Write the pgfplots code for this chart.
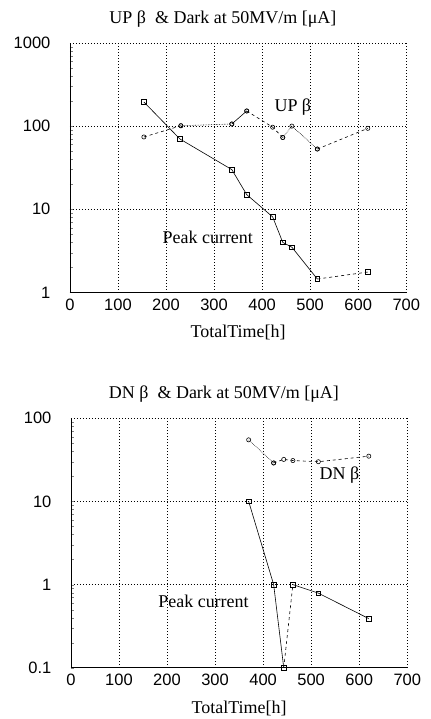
\documentclass[border=0pt]{standalone}
\usepackage{fontspec}
\setmainfont{Liberation Serif}
\newfontfamily\numfont{Liberation Sans}
\usepackage{pgfplots}
\pgfplotsset{compat=1.18}
\pgfplotsset{
  myax/.style={
    scale only axis, width=337pt, height=250pt,
    xmin=0, xmax=700,
    xtick={0,100,...,700},
    axis x line*=bottom, axis y line*=left,
    axis line style={-, line width=0.7pt},
    major tick length=0pt,
    grid=major, major grid style={dash pattern=on 0.8pt off 2.2pt, black, line width=0.6pt},
    /pgf/number format/assume math mode=true,
    tick label style={font=\numfont\fontsize{16.5}{18}\selectfont},
    yticklabel style={xshift=-16pt},
    xticklabel style={yshift=-3pt},
    xlabel={TotalTime[h]},
    xlabel style={font=\fontsize{18}{20}\selectfont, yshift=-8pt},
    title style={font=\fontsize{18}{20}\selectfont, at={(0.455,1)}, anchor=south, yshift=6pt},
    every axis plot/.append style={black, line width=0.6pt},
    clip=false,
  },
  sq/.style={mark=square, mark size=2.3pt, mark options={solid}},
  ci/.style={mark=o, mark size=2.1pt, mark options={solid}},
}
\begin{document}
\begin{tikzpicture}[x=1pt,y=1pt]
\path (0,0) rectangle (431,719);
% ---------- top ----------
\begin{axis}[ymode=log, myax, at={(70pt,426pt)}, anchor=south west,
  ymin=1, ymax=1000, ytick={1,10,100,1000}, yticklabels={1,10,100,1000},
  title={UP β \ \& Dark at 50MV/m [μA]}]
% Peak current
\addplot[sq] coordinates {(154,195) (229,70) (337,30) (368,15) (422,8.1) (443,4.0) (462,3.5) (515,1.45)};
\addplot[sq, dashed] coordinates {(515,1.45) (620,1.76)};
% UP beta
\addplot[ci, dashed] coordinates {(154,74) (231,101)};
\addplot[ci, densely dotted] coordinates {(231,101) (337,106)};
\addplot[ci] coordinates {(337,106) (368,152)};
\addplot[ci, dashed] coordinates {(368,152) (422,97) (443,73)};
\addplot[ci, densely dotted] coordinates {(443,73) (462,100) (515,53)};
\addplot[ci, dashed] coordinates {(515,53) (620,94)};
\node[font=\fontsize{18}{20}\selectfont] at (axis cs:464,169) {UP β};
\node[font=\fontsize{18}{20}\selectfont] at (axis cs:287,4.6) {Peak current};
\end{axis}
% ---------- bottom ----------
\begin{axis}[ymode=log, myax, at={(71pt,50pt)}, anchor=south west,
  ymin=0.1, ymax=100, ytick={0.1,1,10,100}, yticklabels={0.1,1,10,100},
  title={DN β \ \& Dark at 50MV/m [μA]}]
% Peak current
\addplot[sq] coordinates {(370,10) (422,1) (443,0.1)};
\addplot[sq, dashed] coordinates {(443,0.1) (462,1)};
\addplot[sq] coordinates {(462,1) (515,0.79) (620,0.39)};
% DN beta
\addplot[ci, densely dotted] coordinates {(370,55) (422,29)};
\addplot[ci, dashed] coordinates {(422,29) (443,32) (462,31) (515,30) (620,35)};
\node[font=\fontsize{18}{20}\selectfont] at (axis cs:559,21) {DN β};
\node[font=\fontsize{18}{20}\selectfont] at (axis cs:276,0.63) {Peak current};
\end{axis}
\end{tikzpicture}
\end{document}
